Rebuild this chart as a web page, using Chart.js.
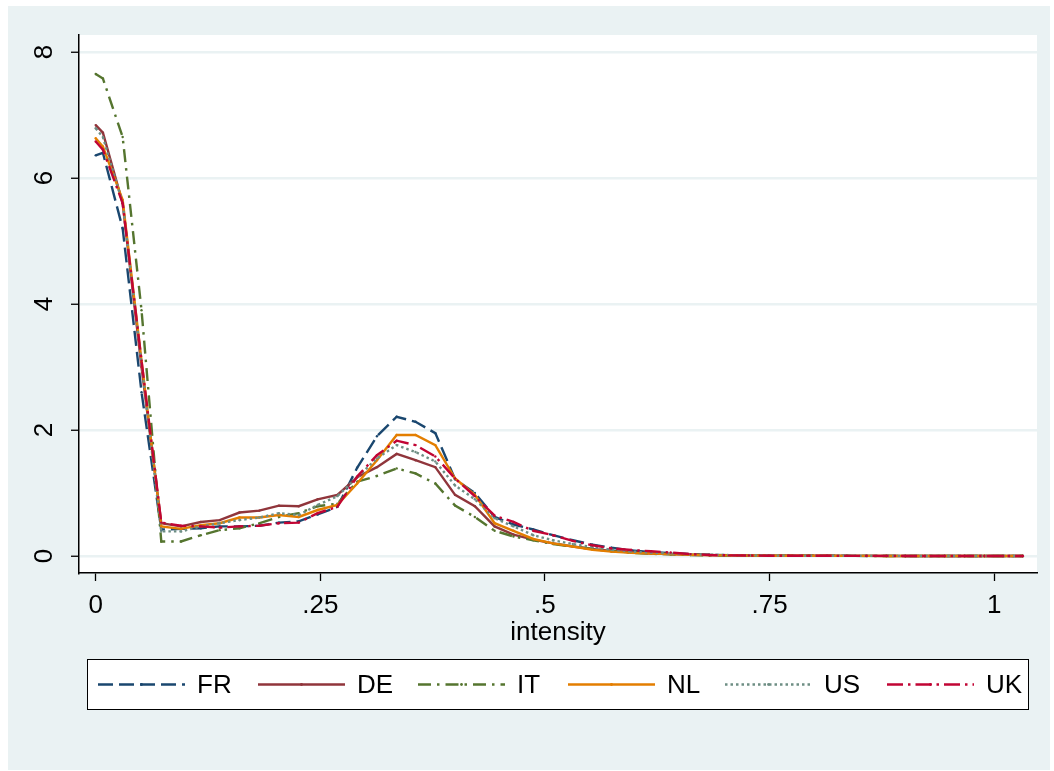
<!DOCTYPE html>
<html>
<head>
<meta charset="utf-8">
<title>Density of intensity by country</title>
<script src="https://cdn.jsdelivr.net/npm/chart.js@4.4.0/dist/chart.umd.min.js"></script>
<style>
  html, body { margin: 0; padding: 0; background: #ffffff; }
  #wrap { position: relative; width: 1054px; height: 771px; }
  canvas { display: block; }
</style>
</head>
<body>
<div id="wrap"><canvas id="chart" width="1054" height="771"></canvas></div>
<script>
// Evaluation points on the intensity axis
const intensity = [0, 0.008, 0.030, 0.051, 0.073, 0.095, 0.117, 0.138, 0.160, 0.182,
  0.204, 0.226, 0.247, 0.269, 0.291, 0.313, 0.335, 0.356, 0.378, 0.400,
  0.422, 0.444, 0.465, 0.487, 0.509, 0.531, 0.553, 0.574, 0.596, 0.618,
  0.640, 0.662, 0.683, 0.705, 0.727, 0.749, 0.771, 0.792, 0.814, 0.836,
  0.858, 0.880, 0.901, 0.923, 0.945, 0.967, 0.989, 1.010, 1.032];

// Estimated densities per country
const densFR = [6.36, 6.40, 5.20, 2.60, 0.42, 0.43, 0.44, 0.47, 0.47, 0.48,
  0.53, 0.55, 0.66, 0.78, 1.40, 1.90, 2.21, 2.13, 1.95, 1.22,
  1.00, 0.62, 0.50, 0.42, 0.33, 0.25, 0.18, 0.13, 0.09, 0.06,
  0.045, 0.03, 0.02, 0.014, 0.01, 0.007, 0.005, 0.004, 0.003, 0.003,
  0.002, 0.002, 0.001, 0.001, 0.001, 0.001, 0.001, 0.001, 0.001];
const densDE = [6.84, 6.72, 5.60, 3.00, 0.52, 0.47, 0.54, 0.57, 0.69, 0.72,
  0.80, 0.79, 0.90, 0.97, 1.25, 1.41, 1.62, 1.52, 1.41, 0.97,
  0.79, 0.47, 0.34, 0.26, 0.20, 0.15, 0.11, 0.08, 0.06, 0.04,
  0.03, 0.02, 0.015, 0.01, 0.007, 0.005, 0.004, 0.003, 0.003, 0.002,
  0.002, 0.001, 0.001, 0.001, 0.001, 0.001, 0.001, 0.001, 0.001];
const densIT = [7.65, 7.58, 6.65, 3.90, 0.23, 0.23, 0.33, 0.41, 0.44, 0.52,
  0.62, 0.68, 0.79, 0.83, 1.18, 1.27, 1.39, 1.31, 1.15, 0.80,
  0.62, 0.40, 0.31, 0.25, 0.19, 0.15, 0.11, 0.08, 0.05, 0.035,
  0.025, 0.015, 0.01, 0.007, 0.005, 0.004, 0.003, 0.003, 0.002, 0.002,
  0.001, 0.001, 0.001, 0.001, 0.001, 0.001, 0.001, 0.001, 0.001];
const densNL = [6.63, 6.50, 5.65, 3.10, 0.47, 0.43, 0.49, 0.52, 0.61, 0.61,
  0.65, 0.62, 0.73, 0.81, 1.15, 1.52, 1.92, 1.92, 1.76, 1.23,
  0.97, 0.52, 0.40, 0.27, 0.20, 0.15, 0.10, 0.07, 0.05, 0.04,
  0.03, 0.02, 0.014, 0.01, 0.007, 0.005, 0.004, 0.003, 0.003, 0.002,
  0.002, 0.001, 0.001, 0.001, 0.001, 0.001, 0.001, 0.001, 0.001];
const densUS = [6.79, 6.65, 5.60, 3.05, 0.39, 0.39, 0.47, 0.52, 0.57, 0.61,
  0.68, 0.65, 0.81, 0.95, 1.25, 1.55, 1.76, 1.65, 1.50, 1.12,
  0.90, 0.60, 0.47, 0.33, 0.25, 0.19, 0.14, 0.10, 0.07, 0.055,
  0.04, 0.028, 0.02, 0.014, 0.01, 0.007, 0.005, 0.004, 0.003, 0.003,
  0.002, 0.002, 0.001, 0.001, 0.001, 0.001, 0.001, 0.001, 0.001];
const densUK = [6.58, 6.45, 5.60, 3.10, 0.53, 0.48, 0.47, 0.45, 0.47, 0.48,
  0.52, 0.53, 0.68, 0.78, 1.26, 1.60, 1.83, 1.76, 1.58, 1.23,
  0.95, 0.64, 0.54, 0.40, 0.33, 0.24, 0.17, 0.12, 0.095, 0.075,
  0.055, 0.03, 0.015, 0.01, 0.007, 0.005, 0.004, 0.003, 0.003, 0.002,
  0.002, 0.002, 0.001, 0.001, 0.001, 0.001, 0.001, 0.001, 0.001];

const countries = ['FR', 'DE', 'IT', 'NL', 'US', 'UK'];
const xTickValues = [0, 0.25, 0.5, 0.75, 1];
const xTickLabels = ['0', '.25', '.5', '.75', '1'];
const yTickValues = [0, 2, 4, 6, 8];
const yTickLabels = ['0', '2', '4', '6', '8'];
const xTitle = 'intensity';

// Line styling per country
const styles = [
  { color: '#1A476F', dash: [15, 6] },
  { color: '#90353B', dash: [] },
  { color: '#55752F', dash: [13, 6, 2.5, 6] },
  { color: '#E37E00', dash: [] },
  { color: '#6E8E84', dash: [2.5, 3] },
  { color: '#C10534', dash: [16, 5, 2.5, 5] }
];
const allDens = [densFR, densDE, densIT, densNL, densUS, densUK];

const FONT = '"Liberation Sans", Arial, Helvetica, sans-serif';
const BG = '#EAF2F3';
const LINE_W = 2.4;

const datasets = countries.map((name, i) => ({
  label: name,
  data: intensity.map((x, j) => ({ x: x, y: allDens[i][j] })),
  showLine: true,
  borderColor: styles[i].color,
  backgroundColor: styles[i].color,
  borderWidth: LINE_W,
  borderDash: styles[i].dash,
  pointRadius: 1.2,
  pointBorderWidth: 0,
  pointBackgroundColor: styles[i].color,
  tension: 0,
  order: countries.length - i
}));

// Background panels: outer light frame and white plot region
const panels = {
  id: 'panels',
  beforeDraw(chart) {
    const ctx = chart.ctx, a = chart.chartArea;
    ctx.save();
    ctx.fillStyle = '#ffffff';
    ctx.fillRect(0, 0, chart.width, chart.height);
    ctx.fillStyle = BG;
    ctx.fillRect(8, 6, 1042, 764);
    ctx.fillStyle = '#ffffff';
    ctx.fillRect(a.left, a.top, a.right - a.left, a.bottom - a.top);
    ctx.restore();
  }
};

// Tick labels, axis title and legend box
const annotations = {
  id: 'annotations',
  afterDraw(chart) {
    const ctx = chart.ctx;
    const xs = chart.scales.x, ys = chart.scales.y;
    ctx.save();
    ctx.fillStyle = '#000';
    ctx.font = '26px ' + FONT;
    ctx.textAlign = 'center';
    ctx.textBaseline = 'middle';
    xTickValues.forEach((v, i) => {
      ctx.fillText(xTickLabels[i], xs.getPixelForValue(v), 606);
    });
    yTickValues.forEach((v, i) => {
      ctx.save();
      ctx.translate(45, ys.getPixelForValue(v));
      ctx.rotate(-Math.PI / 2);
      ctx.fillText(yTickLabels[i], 0, 0);
      ctx.restore();
    });
    ctx.textBaseline = 'alphabetic';
    ctx.fillText(xTitle, (chart.chartArea.left + chart.chartArea.right) / 2, 640);

    // legend
    const box = { x: 87.5, y: 659.5, w: 941, h: 50 };
    ctx.fillStyle = '#ffffff';
    ctx.fillRect(box.x, box.y, box.w, box.h);
    ctx.strokeStyle = '#000';
    ctx.lineWidth = 1;
    ctx.setLineDash([]);
    ctx.strokeRect(box.x, box.y, box.w, box.h);
    const cy = box.y + box.h / 2;
    const sampleLeft = [98, 258, 418, 568, 725, 887];
    const sampleLen = 87;
    countries.forEach((name, i) => {
      const x0 = sampleLeft[i];
      ctx.strokeStyle = styles[i].color;
      ctx.lineWidth = LINE_W;
      ctx.setLineDash(styles[i].dash);
      ctx.beginPath();
      ctx.moveTo(x0, cy);
      ctx.lineTo(x0 + sampleLen, cy);
      ctx.stroke();
      ctx.setLineDash([]);
      ctx.fillStyle = styles[i].color;
      ctx.beginPath();
      ctx.arc(x0 + sampleLen / 2, cy, 1.4, 0, Math.PI * 2);
      ctx.fill();
      ctx.fillStyle = '#000';
      ctx.textAlign = 'left';
      ctx.textBaseline = 'middle';
      ctx.fillText(name, x0 + sampleLen + 12, cy + 1);
    });
    ctx.restore();
  }
};

new Chart(document.getElementById('chart'), {
  type: 'scatter',
  data: { datasets: datasets },
  options: {
    responsive: false,
    animation: false,
    devicePixelRatio: 1,
    layout: { padding: { left: 0, top: 35, right: 17, bottom: 0 } },
    plugins: { legend: { display: false }, tooltip: { enabled: false } },
    scales: {
      x: {
        type: 'linear',
        min: -0.0186,
        max: 1.0477,
        afterBuildTicks: s => { s.ticks = xTickValues.map(v => ({ value: v })); },
        afterFit: s => { s.height = 771 - 573; },
        ticks: { display: false },
        grid: { drawOnChartArea: false, drawTicks: true, tickLength: 8, tickColor: '#000', tickWidth: 1.3 },
        border: { display: true, color: '#000', width: 1.5 }
      },
      y: {
        type: 'linear',
        min: -0.27,
        max: 8.27,
        afterBuildTicks: s => { s.ticks = yTickValues.map(v => ({ value: v })); },
        afterFit: s => { s.width = 79; },
        ticks: { display: false },
        grid: { color: BG, lineWidth: 2.5, drawTicks: true, tickLength: 8, tickColor: '#000', tickWidth: 1.3 },
        border: { display: true, color: '#000', width: 1.5 }
      }
    }
  },
  plugins: [panels, annotations]
});
</script>
</body>
</html>
